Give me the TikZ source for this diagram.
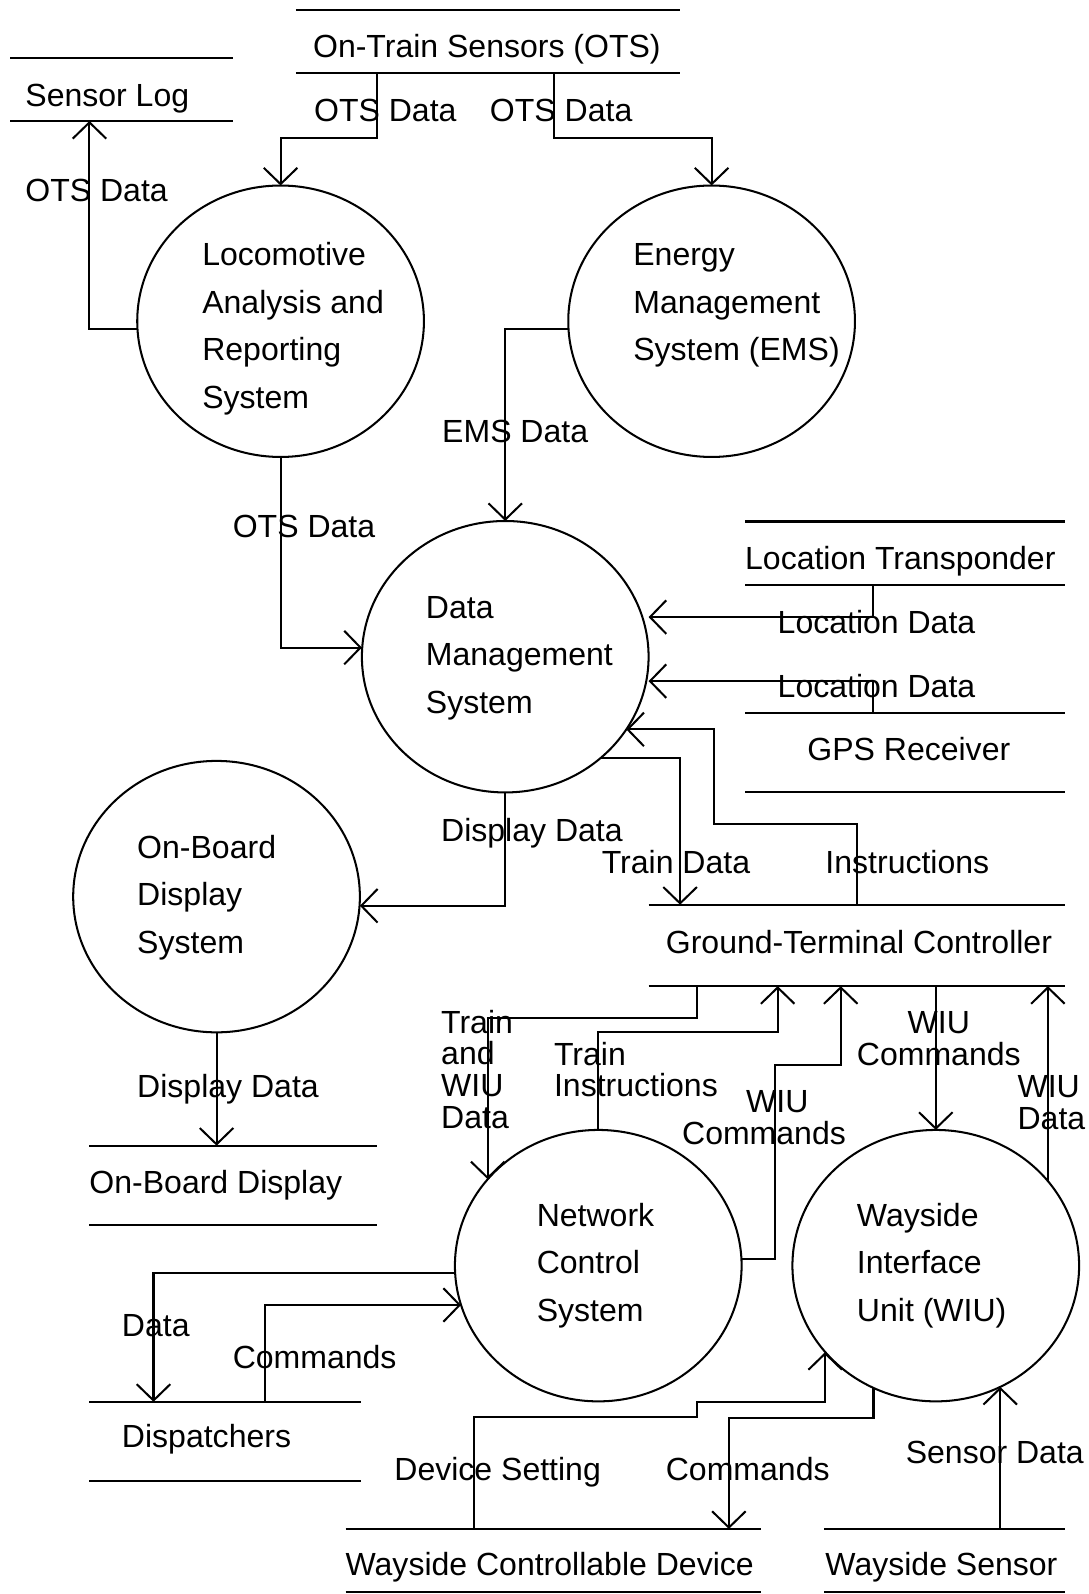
\documentclass[tikz,border=0pt]{standalone}
\usepackage{fontspec}
\setmainfont{Liberation Sans}
\usetikzlibrary{arrows.meta,shapes.geometric}
\begin{document}
\begin{tikzpicture}[x=0.5pt,y=-0.5pt, line width=1pt,
  every node/.style={font=\fontsize{15.75pt}{23.5pt}\selectfont, inner sep=0pt, outer sep=0pt},
  proc/.style={ellipse, draw, minimum width=141pt, minimum height=133.5pt},
  storebox/.style={draw=none, rectangle},
  txt/.style={anchor=base west, align=left},
  lbl/.style={anchor=base west, align=left, font=\fontsize{15.75pt}{15.6pt}\selectfont},
  flow/.style={-{Straight Barb[length=8pt,width=16.5pt]}},
]
\useasboundingbox (0,0) rectangle (1071,1568);

% ---------- stores ----------
\node[storebox, minimum width=189pt, minimum height=31pt] (ots) at (480,41) {};
\node[storebox, minimum width=109.5pt, minimum height=31pt] (slog) at (119.5,88) {};
\node[storebox, minimum width=157.5pt, minimum height=31pt] (lt) at (890.5,544) {};
\node[storebox, minimum width=157.5pt, minimum height=39pt] (gps) at (890.5,740) {};
\node[storebox, minimum width=205pt, minimum height=40pt] (gtc) at (843,930) {};
\node[storebox, minimum width=141.5pt, minimum height=39pt] (obd) at (229.5,1166) {};
\node[storebox, minimum width=133.5pt, minimum height=39pt] (disp) at (221.5,1418) {};
\node[storebox, minimum width=204.5pt, minimum height=31pt] (wcd) at (544.5,1535) {};
\node[storebox, minimum width=118.5pt, minimum height=31pt] (ws) at (929.5,1535) {};
\foreach \s in {ots,slog,lt,gps,gtc,obd,disp,wcd,ws}
  \draw (\s.north west) -- (\s.north east) (\s.south west) -- (\s.south east);

\node[txt] (ots-t) at (308,57) {On-Train Sensors (OTS)};
\node[txt] (slog-t) at (25,105) {Sensor Log};
\node[txt] (lt-t) at (733,560) {Location Transponder};
\node[anchor=base] (gps-t) at (894,748) {GPS Receiver};
\node[txt] (gtc-t) at (655,938) {Ground-Terminal Controller};
\node[txt] (obd-t) at (88,1174) {On-Board Display};
\node[txt] (disp-t) at (120,1424) {Dispatchers};
\node[txt] (wcd-t) at (340,1550) {Wayside Controllable Device};
\node[txt] (ws-t) at (812,1550) {Wayside Sensor};

% ---------- processes ----------
\node[proc] (loc) at (276,316) {};
\node[proc] (ems) at (700,316) {};
\node[proc] (dms) at (497,646) {};
\node[proc] (obds) at (213,882) {};
\node[proc] (ncs) at (588.5,1245) {};
\node[proc] (wiu) at (920.5,1245) {};

% (multi-line nodes: base anchor = baseline of last line)
\node[txt] (loc-t) at (199,402) {Locomotive\\Analysis and\\Reporting\\System};
\node[txt] (ems-t) at (623,355) {Energy\\Management\\System (EMS)};
\node[txt] (dms-t) at (419,702) {Data\\Management\\System};
\node[txt] (obds-t) at (135,938) {On-Board\\Display\\System};
\node[txt] (ncs-t) at (528,1300) {Network\\Control\\System};
\node[txt] (wiu-t) at (843,1300) {Wayside\\Interface\\Unit (WIU)};

% ---------- flows ----------
\draw[flow] (ots.south -| 371,0) -- ++(0,64) -| (loc.north);
\draw[flow] (ots.south -| 545,0) -- ++(0,64) -| (ems.north);
\draw[flow] (loc.west |- 0,324) -| (slog.south -| 88,0);
\draw[flow] (ems.west |- 0,324) -| (dms.north);
\draw[flow] (loc.south) |- (dms.west |- 0,637);
\draw[flow] (lt.south -| 859,0) |- (dms.east |- 0,607);
\draw[flow] (gps.north -| 859,0) |- (dms.east |- 0,670);
\draw[flow] (gtc.north -| 843,0) -- ++(0,-79) -- ++(-141,0) |- (dms.-31);
\draw[flow] (dms.-47) -| (gtc.north -| 669,0);
\draw[flow] (dms.south) |- (obds.east |- 0,891);
\draw[flow] (obds.south) -- (obds.south |- obd.north);
\draw[flow] (gtc.south -| 686,0) -- ++(0,31) -| (ncs.142);
\draw[flow] (ncs.north) -- ++(0,-96) -| (gtc.south -| 765,0);
\draw[flow] (ncs.east |- 0,1238) -- ++(33,0) -- ++(0,-190) -| (gtc.south -| 827,0);
\draw[flow] (gtc.south -| wiu.north) -- (wiu.north);
\draw[flow] (wiu.37) -- (wiu.37 |- gtc.south);
\draw[flow] (ncs.west |- 0,1252) -| (disp.north -| 151,0);
\draw[flow] (disp.north -| 261,0) |- (ncs.196);
\draw[flow] (wcd.north -| 466,0) -- ++(0,-110) -| ++(220,-15) -| (wiu.218);
\draw[flow] (wiu.243) -- ++(0,30) -| (wcd.north -| 717,0);
\draw[flow] (wiu.298 |- ws.north) -- (wiu.298);

% ---------- flow labels ----------
\node[lbl] (l1) at (309,120) {OTS Data};
\node[lbl] (l2) at (482,120) {OTS Data};
\node[lbl] (l3) at (25,198) {OTS Data};
\node[lbl] (l4) at (435,435) {EMS Data};
\node[lbl] (l5) at (229,529) {OTS Data};
\node[lbl] (l6) at (765,623) {Location Data};
\node[lbl] (l7) at (765,686) {Location Data};
\node[lbl] (l8) at (434,828) {Display Data};
\node[lbl] (l9) at (592,859) {Train Data};
\node[lbl] (l10) at (812,859) {Instructions};
\node[lbl] (l11) at (135,1080) {Display Data};
\node[lbl] (l12) at (434,1110) {Train\\and\\WIU\\Data};
\node[lbl] (l13) at (545,1079) {Train\\Instructions};
\node[lbl] (l14) at (671,1126) {\hspace*{31.5pt}WIU\\Commands};
\node[lbl, anchor=base, align=center] (l15) at (923.5,1048) {WIU\\Commands};
\node[lbl] (l16) at (1001,1111) {WIU\\Data};
\node[lbl] (l17) at (120,1315) {Data};
\node[lbl] (l18) at (229,1346) {Commands};
\node[lbl] (l19) at (388,1456) {Device Setting};
\node[lbl] (l20) at (655,1456) {Commands};
\node[lbl] (l21) at (891,1440) {Sensor Data};
\end{tikzpicture}
\end{document}
